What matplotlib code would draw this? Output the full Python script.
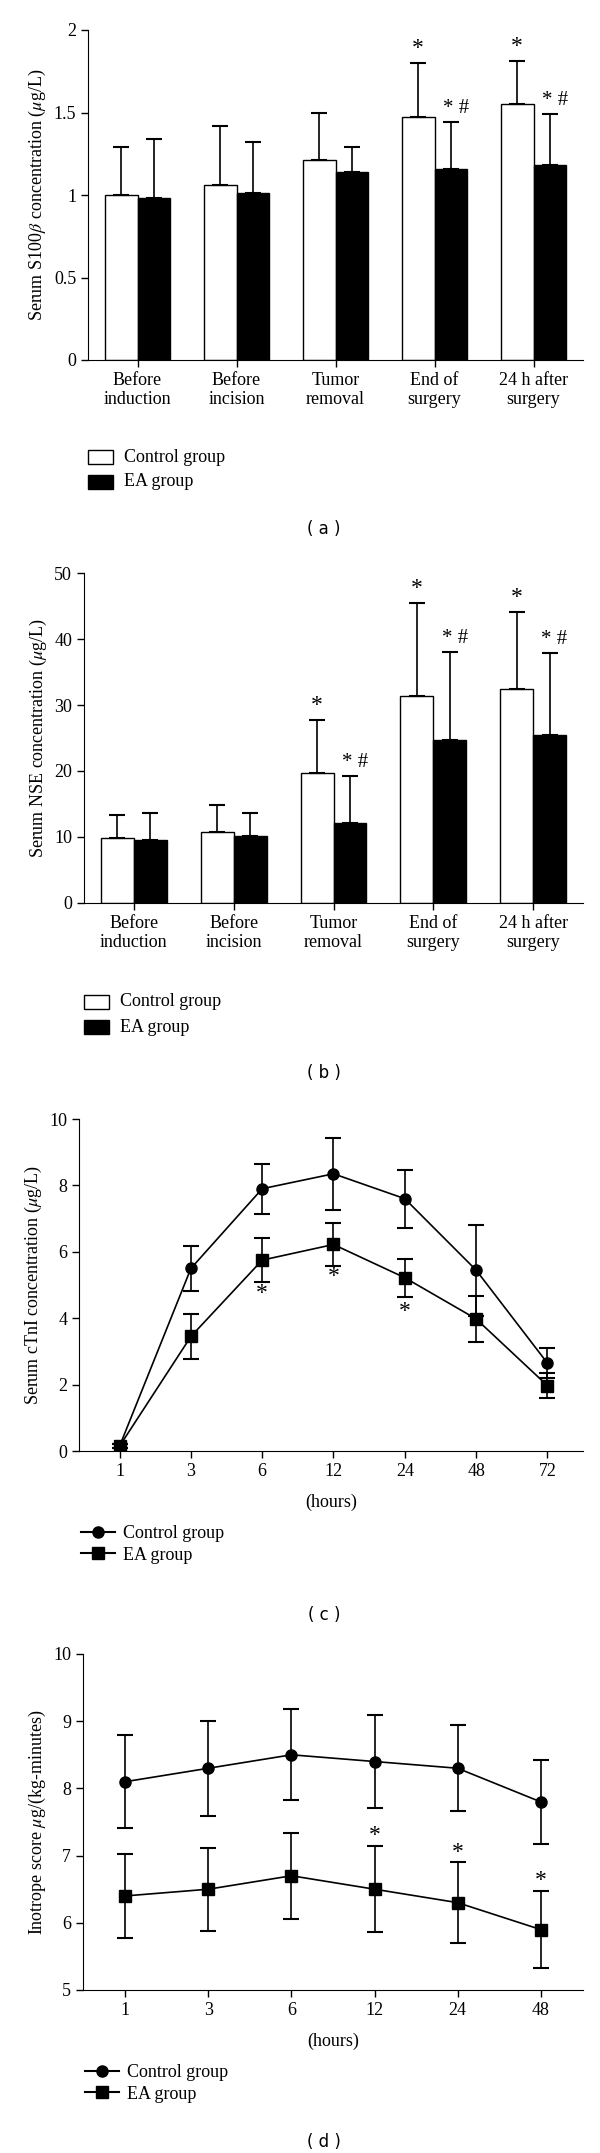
import matplotlib
matplotlib.use("Agg")
import matplotlib.pyplot as plt
import numpy as np

plt.rcParams['font.family'] = ['Liberation Serif', 'DejaVu Serif']
plt.rcParams['mathtext.fontset'] = 'stix'

cats_ab = ["Before\ninduction", "Before\nincision", "Tumor\nremoval", "End of\nsurgery", "24 h after\nsurgery"]
s100_ctrl = [1.00, 1.06, 1.21, 1.47, 1.55]
s100_ctrl_top = [1.29, 1.42, 1.50, 1.80, 1.81]
s100_ea = [0.98, 1.01, 1.14, 1.16, 1.18]
s100_ea_top = [1.34, 1.32, 1.29, 1.44, 1.49]
s100_ctrl_mark = ["", "", "", "*", "*"]
s100_ea_mark = ["", "", "", "* #", "* #"]

nse_ctrl = [9.8, 10.7, 19.7, 31.4, 32.4]
nse_ctrl_top = [13.4, 14.8, 27.8, 45.5, 44.1]
nse_ea = [9.6, 10.1, 12.1, 24.7, 25.5]
nse_ea_top = [13.7, 13.7, 19.2, 38.0, 37.9]
nse_ctrl_mark = ["", "", "*", "*", "*"]
nse_ea_mark = ["", "", "* #", "* #", "* #"]

hours_c = ["1", "3", "6", "12", "24", "48", "72"]
ctni_ctrl = [0.15, 5.5, 7.9, 8.35, 7.6, 5.45, 2.65]
ctni_ctrl_sd = [0.05, 0.68, 0.75, 1.08, 0.87, 1.37, 0.45]
ctni_ea = [0.15, 3.45, 5.75, 6.22, 5.22, 3.98, 1.97]
ctni_ea_sd = [0.05, 0.67, 0.67, 0.65, 0.57, 0.70, 0.37]
ctni_star_idx = [2, 3, 4]
ctni_star_y = [4.75, 5.25, 4.2]

hours_d = ["1", "3", "6", "12", "24", "48"]
ino_ctrl = [8.1, 8.3, 8.5, 8.4, 8.3, 7.8]
ino_ctrl_sd = [0.69, 0.71, 0.68, 0.69, 0.64, 0.62]
ino_ea = [6.4, 6.5, 6.7, 6.5, 6.3, 5.9]
ino_ea_sd = [0.62, 0.62, 0.64, 0.64, 0.60, 0.58]
ino_star_idx = [3, 4, 5]
ino_star_y = [7.3, 7.05, 6.63]

W, H = 600, 2153
fig = plt.figure(figsize=(W/100, H/100), dpi=100)
RIGHT = 583
CAPX = 324

def ax_px(l, t, r, b):
    return fig.add_axes([l/W, 1-b/H, (r-l)/W, (b-t)/H])

FS = 13

def style(ax):
    for s in ['top', 'right']:
        ax.spines[s].set_visible(False)
    ax.tick_params(labelsize=FS, length=5, width=1)

def bar_panel(t, b, l, ctrl, ctop, ea, etop, cm, em, ylim, yt, ylab, leg_y, cap_y, cap):
    ax = ax_px(l, t, RIGHT, b)
    x = np.arange(len(ctrl))
    w = 0.33
    ax.bar(x - w/2, ctrl, w, color='white', edgecolor='black', linewidth=1)
    ax.bar(x + w/2, ea, w, color='black', edgecolor='black', linewidth=1)
    for xi, v, tp, m in zip(x - w/2, ctrl, ctop, cm):
        ax.errorbar([xi], [v], yerr=[[0], [tp - v]], fmt='none', ecolor='black', capsize=6, lw=1.2, capthick=1.5)
        if m:
            ax.text(xi, tp + ylim[1]*0.012, m, ha='center', va='bottom', fontsize=17)
    for xi, v, tp, m in zip(x + w/2, ea, etop, em):
        ax.errorbar([xi], [v], yerr=[[0], [tp - v]], fmt='none', ecolor='black', capsize=6, lw=1.2, capthick=1.5)
        if m:
            ax.text(xi + 0.05, tp + ylim[1]*0.012, m, ha='center', va='bottom', fontsize=15)
    ax.set_xlim(-0.5, 4.5)
    ax.set_ylim(*ylim)
    ax.set_yticks(yt)
    ax.set_yticklabels([f"{v:g}" for v in yt])
    ax.set_xticks(x)
    ax.set_xticklabels(cats_ab, fontsize=FS, linespacing=1.2)
    ax.set_ylabel(ylab, fontsize=FS)
    style(ax)
    for i, (fc, lab) in enumerate([('white', 'Control group'), ('black', 'EA group')]):
        yy = leg_y + i*25
        fig.patches.append(plt.Rectangle((l/W, 1 - (yy + 7)/H), 25/W, 14/H,
                                         facecolor=fc, edgecolor='black', lw=1, transform=fig.transFigure))
        fig.text((l + 36)/W, 1 - yy/H, lab, fontsize=FS, va='center')
    fig.text(CAPX/W, 1 - cap_y/H, cap, fontsize=12, ha='center', va='center', family='DejaVu Sans')

bar_panel(30, 360, 88, s100_ctrl, s100_ctrl_top, s100_ea, s100_ea_top, s100_ctrl_mark, s100_ea_mark,
          (0, 2), [0, 0.5, 1, 1.5, 2], r"Serum S100$\beta$ concentration ($\mu$g/L)", 457, 529, "( a )")
bar_panel(573, 903, 84, nse_ctrl, nse_ctrl_top, nse_ea, nse_ea_top, nse_ctrl_mark, nse_ea_mark,
          (0, 50), [0, 10, 20, 30, 40, 50], r"Serum NSE concentration ($\mu$g/L)", 1002, 1073, "( b )")

def line_panel(t, b, l, labels, ctrl, csd, ea, esd, sidx, sy, ylim, yt, ylab, xlim, leg_y, cap_y, cap):
    ax = ax_px(l, t, RIGHT, b)
    x = np.arange(len(labels))
    ax.errorbar(x, ctrl, yerr=csd, fmt='-o', color='black', ms=8, capsize=6, lw=1.2, elinewidth=1.2, capthick=1.5)
    ax.errorbar(x, ea, yerr=esd, fmt='-s', color='black', ms=8, capsize=6, lw=1.2, elinewidth=1.2, capthick=1.5)
    for i, y in zip(sidx, sy):
        ax.text(x[i], y, "*", ha='center', va='center', fontsize=17)
    ax.set_xlim(*xlim)
    ax.set_ylim(*ylim)
    ax.set_yticks(yt)
    ax.set_xticks(x)
    ax.set_xticklabels(labels)
    ax.set_ylabel(ylab, fontsize=FS)
    ax.set_xlabel("(hours)", fontsize=FS, labelpad=10)
    style(ax)
    h1, = fig.axes[0].plot([], [], '-o', color='black', ms=8)
    h2, = fig.axes[0].plot([], [], '-s', color='black', ms=8)
    fig.legend([h1, h2], ["Control group", "EA group"], loc='upper left',
               bbox_to_anchor=((l + 2)/W, 1 - (leg_y - 13)/H), frameon=False, fontsize=FS,
               handlelength=1.9, handletextpad=0.4, labelspacing=0.25, borderaxespad=0, borderpad=0)
    fig.text(CAPX/W, 1 - cap_y/H, cap, fontsize=12, ha='center', va='center', family='DejaVu Sans')

line_panel(1119, 1451, 79, hours_c, ctni_ctrl, ctni_ctrl_sd, ctni_ea, ctni_ea_sd, ctni_star_idx, ctni_star_y,
           (0, 10), [0, 2, 4, 6, 8, 10], r"Serum cTnI concentration ($\mu$g/L)", (-0.57, 6.5), 1538, 1615, "( c )")
line_panel(1654, 1990, 83, hours_d, ino_ctrl, ino_ctrl_sd, ino_ea, ino_ea_sd, ino_star_idx, ino_star_y,
           (5, 10), [5, 6, 7, 8, 9, 10], r"Inotrope score $\mu$g/(kg-minutes)", (-0.51, 5.51), 2077, 2142, "( d )")

fig.savefig("out.png", dpi=100)
